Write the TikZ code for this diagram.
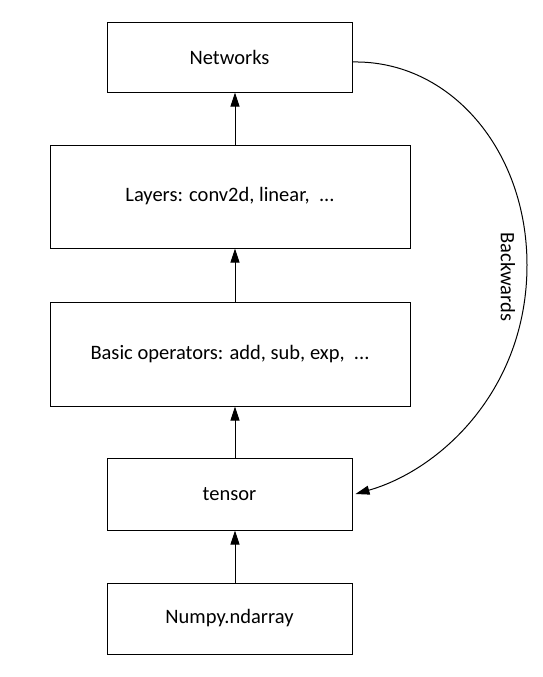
\documentclass[tikz,border=0pt]{standalone}
\usepackage{fontspec}
\setmainfont{Carlito}
\usetikzlibrary{arrows.meta}
\begin{document}
\begin{tikzpicture}[x=1pt,y=-1pt,
  box/.style={draw,line width=1pt,inner sep=0pt,font=\fontsize{20.5}{24}\selectfont},
  arr/.style={line width=1pt,-{Triangle[length=14pt,width=9pt]}}]
\useasboundingbox (0,0) rectangle (542,677);
\node[box,minimum width=245,minimum height=69] (net) at (229.5,57.5) {Networks};
\node[box,minimum width=360,minimum height=103] (lay) at (230,196.5) {Layers: conv2d, linear,\ \ ...};
\node[box,minimum width=360,minimum height=104] (bas) at (230,354) {Basic operators: add, sub, exp,\ \ ...};
\node[box,minimum width=245,minimum height=72] (ten) at (229.5,494) {tensor};
\node[box,minimum width=245,minimum height=71] (np) at (229.5,618.5) {Numpy.ndarray};
\coordinate (ax) at (235,0);
\draw[arr] (np.north -| ax) -- (ten.south -| ax);
\draw[arr] (ten.north -| ax) -- (bas.south -| ax);
\draw[arr] (bas.north -| ax) -- (lay.south -| ax);
\draw[arr] (lay.north -| ax) -- (net.south -| ax);
\coordinate (mid) at (527,265);
\draw[arr] ([yshift=-4.5pt]net.east) .. controls (450,60) and (527,150) .. (mid)
  .. controls (527,390) and (440,470) .. ([xshift=3pt]ten.east);
\node[rotate=-90,font=\fontsize{20.5}{24}\selectfont] (bw) at (508,277) {Backwards};
\end{tikzpicture}
\end{document}
